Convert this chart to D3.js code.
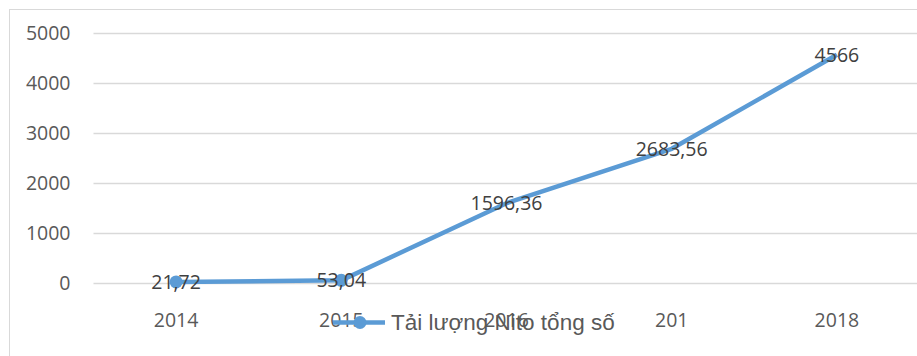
<!DOCTYPE html>
<html>
<head>
<meta charset="utf-8">
<script src="https://cdn.jsdelivr.net/npm/d3@7/dist/d3.min.js"></script>
<style>
  html, body { margin: 0; padding: 0; background: #ffffff; }
  svg { display: block; }
</style>
</head>
<body>
<svg id="chart" width="917" height="356"></svg>
<script>
// Tải lượng Nito tổng số theo năm
const categories = ["2014", "2015", "2016", "2017", "2018"];
const tickLabels = ["2014", "2015", "2016", "201", "2018"];
const nitoValues = [21.72, 53.04, 1596.36, 2683.56, 4566];
const yTicks = [0, 1000, 2000, 3000, 4000, 5000];
const seriesName = "Tải lượng Nito tổng số";

const svg = d3.select("#chart");
const W = 917, H = 356;
const plot = { left: 93.5, right: 919.5, top: 33, bottom: 283 };
const lineColor = "#5b9bd5";
const gridColor = "#d9d9d9";
const numFont = "'Open Sans', sans-serif";

// outer chart frame
svg.append("rect")
  .attr("x", 9.5).attr("y", 9.5)
  .attr("width", 1000).attr("height", 1000)
  .attr("fill", "#ffffff")
  .attr("stroke", gridColor).attr("stroke-width", 1);

const x = d3.scaleBand().domain(categories).range([plot.left, plot.right]).padding(0);
const y = d3.scaleLinear().domain([0, 5000]).range([plot.bottom, plot.top]);

// horizontal gridlines + y labels
const yAxis = svg.append("g")
  .attr("transform", `translate(${plot.left},0)`)
  .call(d3.axisLeft(y).tickValues(yTicks).tickSize(-(W - plot.left)).tickPadding(23)
    .tickFormat(d3.format("d")));
yAxis.select(".domain").remove();
yAxis.selectAll(".tick line").attr("stroke", gridColor).attr("stroke-width", 1.3);
yAxis.selectAll(".tick text")
  .attr("fill", "#595959")
  .style("font-family", numFont)
  .style("font-size", "19.5px");

// x category labels
const xAxis = svg.append("g")
  .attr("transform", `translate(0,${plot.bottom})`)
  .call(d3.axisBottom(x).tickSize(0).tickPadding(30)
    .tickFormat((d, i) => tickLabels[i]));
xAxis.select(".domain").remove();
xAxis.selectAll(".tick text")
  .attr("fill", "#595959")
  .style("font-family", numFont)
  .style("font-size", "19.5px");

const cx = d => x(d) + x.bandwidth() / 2;
const points = categories.map((c, i) => ({ c, v: nitoValues[i] }));

// series line
svg.append("path")
  .datum(points)
  .attr("fill", "none")
  .attr("stroke", lineColor)
  .attr("stroke-width", 4.5)
  .attr("stroke-linejoin", "round")
  .attr("d", d3.line().x(d => cx(d.c)).y(d => y(d.v)));

// markers on the first two years
svg.selectAll("circle.marker")
  .data(points.slice(0, 2))
  .join("circle")
  .attr("class", "marker")
  .attr("cx", d => cx(d.c))
  .attr("cy", d => y(d.v))
  .attr("r", 6.5)
  .attr("fill", lineColor);

// value labels centred on each point
svg.selectAll("text.value")
  .data(points)
  .join("text")
  .attr("class", "value")
  .attr("x", d => cx(d.c))
  .attr("y", d => y(d.v))
  .attr("dy", "0.36em")
  .attr("text-anchor", "middle")
  .attr("fill", "#404040")
  .style("font-family", numFont)
  .style("font-size", "19.5px")
  .text(d => String(d.v).replace(".", ","));

// legend
const legend = svg.append("g").attr("transform", "translate(333,322.5)");
legend.append("line")
  .attr("x1", 0).attr("x2", 52).attr("y1", 0).attr("y2", 0)
  .attr("stroke", lineColor).attr("stroke-width", 4.5);
legend.append("circle")
  .attr("cx", 27).attr("cy", 0).attr("r", 6.5).attr("fill", lineColor);
legend.append("text")
  .attr("x", 58).attr("y", 0).attr("dy", "0.35em")
  .attr("fill", "#595959")
  .style("font-family", "'Liberation Sans', Arial, sans-serif")
  .style("font-size", "22.5px")
  .text(seriesName);
</script>
</body>
</html>
